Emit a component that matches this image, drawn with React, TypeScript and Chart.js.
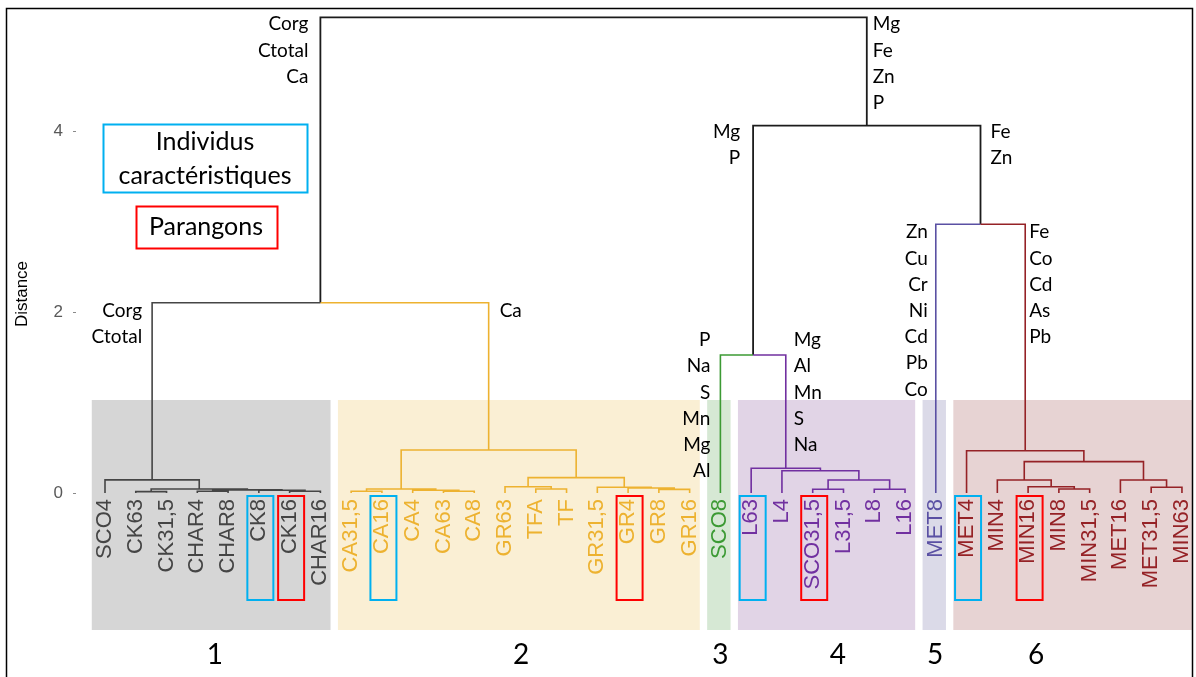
import React, { useEffect, useRef } from 'react';
import { Chart, registerables } from 'chart.js';

Chart.register(...registerables);

// ---------- DATA ----------
const leafNames = [
  'SCO4', 'CK63', 'CK31,5', 'CHAR4', 'CHAR8', 'CK8', 'CK16', 'CHAR16',
  'CA31,5', 'CA16', 'CA4', 'CA63', 'CA8', 'GR63', 'TFA', 'TF', 'GR31,5', 'GR4', 'GR8', 'GR16',
  'SCO8',
  'L63', 'L4', 'SCO31,5', 'L31,5', 'L8', 'L16',
  'MET8',
  'MET4', 'MIN4', 'MIN16', 'MIN8', 'MIN31,5', 'MET16', 'MET31,5', 'MIN63',
];
const leafGroup = [
  1, 1, 1, 1, 1, 1, 1, 1,
  2, 2, 2, 2, 2, 2, 2, 2, 2, 2, 2, 2,
  3,
  4, 4, 4, 4, 4, 4,
  5,
  6, 6, 6, 6, 6, 6, 6, 6,
];
// linkage: node ids 0..35 are leaves, merge k creates node 36 + k
const mergeLeft = [1, 3, 6, 5, 37, 36, 0, 8, 11, 10, 43, 14, 13, 18, 17, 16, 48, 46, 42, 23, 25, 55, 22, 21, 20, 31, 30, 29, 34, 33, 63, 28, 27, 60, 54];
const mergeRight = [2, 4, 7, 38, 39, 40, 41, 9, 12, 44, 45, 15, 47, 19, 49, 50, 51, 52, 53, 24, 26, 56, 57, 58, 59, 32, 61, 62, 35, 64, 65, 66, 67, 68, 69];
const mergeHeight = [0.015, 0.02, 0.02, 0.03, 0.035, 0.045, 0.145, 0.02, 0.02, 0.03, 0.045, 0.045, 0.07, 0.04, 0.055, 0.063, 0.17, 0.476, 2.107, 0.041, 0.041, 0.144, 0.247, 0.274, 1.528, 0.045, 0.07, 0.144, 0.063, 0.144, 0.347, 0.468, 2.976, 4.068, 5.268];

const groupNames = ['1', '2', '3', '4', '5', '6'];
const groupColors = ['#454545', '#EDB230', '#3C9A34', '#7130A0', '#5A50A3', '#952226'];
const groupFills = ['#d6d6d6', '#faefd4', '#d6e8d4', '#e1d4e6', '#dbdae8', '#e7d3d3'];
const mixedColor = '#1c1c1c';

const characteristicLeaves = ['CK8', 'CA16', 'L63', 'MET4'];
const paragonLeaves = ['CK16', 'GR4', 'SCO31,5', 'MIN16'];

const yTicks = [0, 2, 4];
const yTitle = 'Distance';

// variables that drive each split (node id, side of the split)
const annotNode = [70, 70, 69, 69, 68, 68, 54, 54, 60, 60];
const annotSide = ['L', 'R', 'L', 'R', 'L', 'R', 'L', 'R', 'L', 'R'];
const annotTexts = [
  ['Corg', 'Ctotal', 'Ca'],
  ['Mg', 'Fe', 'Zn', 'P'],
  ['Mg', 'P'],
  ['Fe', 'Zn'],
  ['Zn', 'Cu', 'Cr', 'Ni', 'Cd', 'Pb', 'Co'],
  ['Fe', 'Co', 'Cd', 'As', 'Pb'],
  ['Corg', 'Ctotal'],
  ['Ca'],
  ['P', 'Na', 'S', 'Mn', 'Mg', 'Al'],
  ['Mg', 'Al', 'Mn', 'S', 'Na'],
];
const legendCharacteristic = ['Individus', 'caractéristiques'];
const legendParagon = 'Parangons';

// ---------- LAYOUT (pixels) ----------
const W = 1196;
const H = 677;
const annotGap = [12, 6, 13, 10, 8, 4, 10, 11, 10, 8];
const annotDy = [7, 7, 6, 6, 8, 8, 8, 8, -15, -15];
const annotLine = 26.2;
const groupLabelAt = [3.57, 13.52, 20.0, 23.82, 26.98, 30.26];

const SANS = '"Liberation Sans", Arial, sans-serif';
const LATO = 'Lato, "Noto Sans", sans-serif';

function buildTree() {
  const xs: number[] = leafNames.map((_, i) => i);
  const hs: number[] = leafNames.map(() => 0);
  const grp: number[] = leafGroup.slice();
  mergeLeft.forEach((l, k) => {
    const r = mergeRight[k];
    xs.push((xs[l] + xs[r]) / 2);
    hs.push(mergeHeight[k]);
    grp.push(grp[l] === grp[r] ? grp[l] : 0);
  });
  return { xs, hs, grp };
}

export default function App() {
  const ref = useRef<HTMLCanvasElement>(null);

  useEffect(() => {
    const canvas = ref.current!;
    const tree = buildTree();
    const n = leafNames.length;

    const byColor = new Map<string, any[]>();
    mergeLeft.forEach((l, k) => {
      const id = n + k;
      [l, mergeRight[k]].forEach((c) => {
        const col = tree.grp[c] ? groupColors[tree.grp[c] - 1] : mixedColor;
        if (!byColor.has(col)) byColor.set(col, []);
        byColor.get(col)!.push(
          { x: tree.xs[c], y: tree.hs[c] },
          { x: tree.xs[c], y: mergeHeight[k] },
          { x: tree.xs[id], y: mergeHeight[k] },
          { x: tree.xs[id], y: null },
        );
      });
    });
    const datasets = Array.from(byColor.entries()).map(([col, pts]) => ({
      data: pts,
      borderColor: col,
      borderWidth: col === mixedColor ? 1.8 : 1.6,
      pointRadius: 0,
      spanGaps: false,
      tension: 0,
      borderJoinStyle: 'miter' as const,
      borderCapStyle: 'butt' as const,
    }));

    const leftPx = 76;
    const leaf0Px = 105;
    const step = 30.77;
    const xMin = -(leaf0Px - leftPx) / step;
    const xMax = (W - leaf0Px) / step;
    const bottomPx = 493;
    const pxPerUnit = 90.3;
    const yMax = bottomPx / pxPerUnit;

    const zeroPad = (s: any) => {
      s.paddingLeft = 0;
      s.paddingRight = 0;
      s.paddingTop = 0;
      s.paddingBottom = 0;
    };

    const decor = {
      id: 'decor',
      beforeDraw(chart: any) {
        const ctx = chart.ctx;
        const xs = chart.scales.x;
        ctx.save();
        ctx.fillStyle = '#ffffff';
        ctx.fillRect(0, 0, W, H);
        groupNames.forEach((_, gi) => {
          const idx = leafGroup.map((g, i) => (g === gi + 1 ? i : -1)).filter((i) => i >= 0);
          const x0 = xs.getPixelForValue(idx[0] - 0.43);
          const x1 = xs.getPixelForValue(idx[idx.length - 1] + 0.33);
          ctx.fillStyle = groupFills[gi];
          ctx.fillRect(x0, 400, x1 - x0, 230);
        });
        ctx.restore();
      },
      afterDraw(chart: any) {
        const ctx = chart.ctx;
        const xs = chart.scales.x;
        const ys = chart.scales.y;
        ctx.save();
        // highlight boxes
        ctx.lineWidth = 2;
        const box = (name: string, col: string) => {
          const i = leafNames.indexOf(name);
          const px = xs.getPixelForValue(i);
          ctx.strokeStyle = col;
          ctx.strokeRect(px - 11.5, 496, 26, 104);
        };
        characteristicLeaves.forEach((nm) => box(nm, '#00B0F0'));
        paragonLeaves.forEach((nm) => box(nm, '#FF0000'));

        // legend
        ctx.strokeStyle = '#00B0F0';
        ctx.strokeRect(103.5, 124.5, 204, 68);
        ctx.strokeStyle = '#FF0000';
        ctx.strokeRect(136.5, 206.5, 141, 42);
        ctx.fillStyle = '#000';
        ctx.font = `25px ${LATO}`;
        ctx.textAlign = 'center';
        ctx.textBaseline = 'middle';
        ctx.fillText(legendCharacteristic[0], 205, 142);
        ctx.fillText(legendCharacteristic[1], 205, 176);
        ctx.fillText(legendParagon, 206, 227);

        // split annotations
        ctx.font = `19px ${LATO}`;
        annotNode.forEach((node, a) => {
          const k = node - n;
          const child = annotSide[a] === 'L' ? mergeLeft[k] : mergeRight[k];
          const cx = xs.getPixelForValue(tree.xs[child]);
          const cy = ys.getPixelForValue(mergeHeight[k]);
          ctx.textAlign = annotSide[a] === 'L' ? 'right' : 'left';
          const tx = annotSide[a] === 'L' ? cx - annotGap[a] : cx + annotGap[a];
          annotTexts[a].forEach((t, j) => {
            ctx.fillText(t, tx, cy + annotDy[a] + j * annotLine);
          });
        });

        // group numbers
        ctx.font = `28px ${LATO}`;
        ctx.textAlign = 'center';
        groupNames.forEach((g, gi) => {
          ctx.fillText(g, xs.getPixelForValue(groupLabelAt[gi]), 655);
        });

        // axis title
        ctx.font = `17px ${SANS}`;
        ctx.translate(22, 294);
        ctx.rotate(-Math.PI / 2);
        ctx.fillText(yTitle, 0, 0);
        ctx.setTransform(1, 0, 0, 1, 0, 0);

        // frame
        ctx.strokeStyle = '#000';
        ctx.lineWidth = 1.5;
        ctx.strokeRect(6.5, 8.5, 1186, 700);
        ctx.restore();
      },
    };

    const chart = new Chart(canvas, {
      type: 'line',
      data: { datasets },
      options: {
        animation: false,
        responsive: false,
        layout: { padding: 0 },
        plugins: { legend: { display: false }, tooltip: { enabled: false } },
        scales: {
          x: {
            type: 'linear',
            min: xMin,
            max: xMax,
            grid: { display: false, drawTicks: false },
            border: { display: false },
            afterBuildTicks: (s: any) => {
              s.ticks = leafNames.map((_, i) => ({ value: i }));
            },
            afterFit: (s: any) => {
              s.height = H - bottomPx;
              zeroPad(s);
            },
            ticks: {
              autoSkip: false,
              minRotation: 90,
              maxRotation: 90,
              padding: 6,
              font: { family: SANS, size: 22 },
              color: (c: any) => groupColors[leafGroup[c.index] - 1],
              callback: (v: any) => leafNames[Math.round(v)],
            },
          },
          y: {
            type: 'linear',
            min: 0,
            max: yMax,
            grid: { display: true, drawOnChartArea: false, drawTicks: true, tickLength: 3, color: '#8a8a8a' },
            border: { display: false },
            afterBuildTicks: (s: any) => {
              s.ticks = yTicks.map((v) => ({ value: v }));
            },
            afterFit: (s: any) => {
              s.width = leftPx;
              zeroPad(s);
            },
            ticks: {
              padding: 10,
              color: '#595959',
              font: { family: SANS, size: 17 },
              callback: (v: any) => String(v),
            },
          },
        },
      },
      plugins: [decor],
    });
    return () => chart.destroy();
  }, []);

  return (
    <div style={{ position: 'fixed', left: 0, top: 0, width: W, height: H, overflow: 'hidden', background: '#fff' }}>
      <canvas ref={ref} width={W} height={H} style={{ display: 'block' }} />
    </div>
  );
}
